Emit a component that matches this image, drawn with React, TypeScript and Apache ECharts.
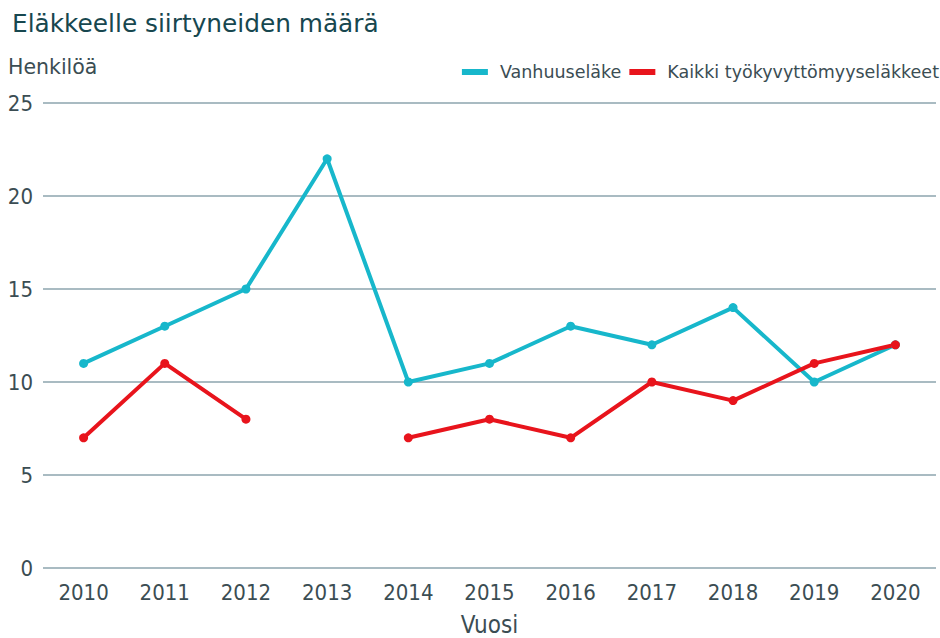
import React, { useEffect, useRef } from "react";
import * as echarts from "echarts";

const years = ["2010", "2011", "2012", "2013", "2014", "2015", "2016", "2017", "2018", "2019", "2020"];
const vanhuus = [11, 13, 15, 22, 10, 11, 13, 12, 14, 10, 12];
const tyokyvyttomyys: (number | string)[] = [7, 11, 8, "-", 7, 8, 7, 10, 9, 11, 12];
const seriesNames = ["Vanhuuseläke", "Kaikki työkyvyttömyyseläkkeet"];

const TEXT = "#3b4d53";
const FONT = "DejaVu Sans";
const CFONT = "'DejaVu Sans Condensed', 'DejaVu Sans'";

export default function App() {
  const ref = useRef<HTMLDivElement>(null);
  useEffect(() => {
    const chart = echarts.init(ref.current!, null, { renderer: "svg" });
    chart.setOption({
      animation: false,
      textStyle: { fontFamily: FONT },
      title: {
        text: "Eläkkeelle siirtyneiden määrä",
        left: 7,
        top: 6,
        textStyle: { fontFamily: FONT, fontSize: 24.8, fontWeight: "normal", color: "#17474f" },
      },
      graphic: [
        {
          type: "text",
          left: 8,
          top: 56,
          style: { text: "Henkilöä", fontFamily: FONT, fontSize: 20.5, fill: TEXT },
        },
      ],
      legend: {
        right: -4,
        top: 58,
        itemWidth: 26,
        itemHeight: 6,
        itemGap: 8,
        icon: "rect",
        textStyle: { fontFamily: FONT, fontSize: 17.5, color: TEXT, padding: [0, 0, 0, 7] },
        data: seriesNames,
      },
      grid: { left: 43, right: 4, top: 103, bottom: 70, containLabel: false, outerBoundsMode: "none" },
      xAxis: {
        type: "category",
        data: years,
        boundaryGap: true,
        name: "Vuosi",
        nameLocation: "middle",
        nameGap: 45,
        nameTextStyle: { fontFamily: CFONT, fontSize: 24, color: TEXT },
        axisLine: { show: false },
        axisTick: { show: false },
        axisLabel: { fontFamily: CFONT, fontSize: 22, color: TEXT, margin: 13 },
      },
      yAxis: {
        type: "value",
        min: 0,
        max: 25,
        interval: 5,
        axisLine: { show: false },
        axisTick: { show: false },
        splitLine: { lineStyle: { color: "#a9bbc2", width: 2 } },
        axisLabel: { fontFamily: CFONT, fontSize: 22, color: TEXT, align: "right", margin: 10 },
      },
      series: [
        {
          name: seriesNames[0],
          type: "line",
          data: vanhuus,
          color: "#17b7cb",
          lineStyle: { width: 4 },
          symbol: "circle",
          symbolSize: 9,
        },
        {
          name: seriesNames[1],
          type: "line",
          data: tyokyvyttomyys,
          color: "#e8141c",
          lineStyle: { width: 4 },
          symbol: "circle",
          symbolSize: 9,
          connectNulls: false,
        },
      ],
    });
    return () => chart.dispose();
  }, []);
  return <div ref={ref} style={{ width: 940, height: 638, position: "absolute", left: 0, top: 0 }} />;
}
